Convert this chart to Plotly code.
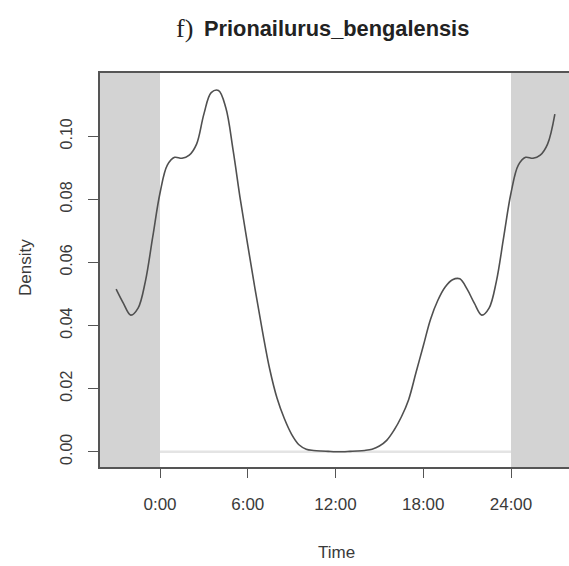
import plotly.graph_objects as go

# ---- data ----
time_h = [-3, -2.5, -2, -1.5, -1, -0.5, 0, 0.5, 1, 1.5, 2, 2.5, 3, 3.5, 4, 4.5,
          5, 5.5, 6, 6.5, 7, 7.5, 8, 8.5, 9, 9.5, 10, 10.5, 11, 11.5, 12, 12.5,
          13, 13.5, 14, 14.5, 15, 15.5, 16, 16.5, 17, 17.5, 18, 18.5, 19, 19.5,
          20, 20.5, 21, 21.5, 22, 22.5, 23, 23.5, 24, 24.5, 25, 25.5, 26, 26.5, 27]
density = [0.0515, 0.0470, 0.0433, 0.0455, 0.0540, 0.0680, 0.0820, 0.0908, 0.0933,
           0.0930, 0.0940, 0.0975, 0.1070, 0.1138, 0.1145, 0.1090, 0.0955, 0.0797,
           0.0655, 0.0515, 0.0383, 0.0262, 0.0170, 0.0105, 0.0055, 0.0022, 0.0008,
           0.0004, 0.0002, 0.0001, 0.0000, 0.0000, 0.0001, 0.0002, 0.0004, 0.0008,
           0.0018, 0.0036, 0.0068, 0.0110, 0.0165, 0.0250, 0.0335, 0.0420, 0.0480,
           0.0522, 0.0545, 0.0548, 0.0515, 0.0470, 0.0433, 0.0455, 0.0540, 0.0680,
           0.0820, 0.0908, 0.0933, 0.0930, 0.0940, 0.0975, 0.1070]
x_ticks = [0, 6, 12, 18, 24]
x_tick_labels = ["0:00", "6:00", "12:00", "18:00", "24:00"]
y_ticks = [0.00, 0.02, 0.04, 0.06, 0.08, 0.10]
y_tick_labels = ["0.00", "0.02", "0.04", "0.06", "0.08", "0.10"]
night_start, night_end = 0, 24
title_prefix = "f)"
title_name = "Prionailurus_bengalensis"
x_label = "Time"
y_label = "Density"

# ---- layout geometry ----
W, H = 569, 566
L, R, T, B = 100, 0, 73, 99
XR = [-4.103, 27.966]
YR = [-0.00485, 0.12003]
pw, ph = W - L - R, H - T - B

def px_x(px):
    return (px - L) / pw

def px_y(py):
    return (H - B - py) / ph

FRAME = "#555555"
TEXT = "#3a3a3a"
SANS = "Liberation Sans, Arial, sans-serif"

fig = go.Figure()
fig.add_trace(go.Scatter(x=time_h, y=density, mode="lines",
                         line=dict(color="#505050", width=1.6, shape="spline", smoothing=1.0),
                         hoverinfo="skip", showlegend=False))

shapes = [
    dict(type="rect", xref="x", yref="paper", x0=XR[0] - 1, x1=night_start, y0=0, y1=1,
         fillcolor="#d3d3d3", line=dict(width=0), layer="below"),
    dict(type="rect", xref="x", yref="paper", x0=night_end, x1=XR[1] + 1, y0=0, y1=1,
         fillcolor="#d3d3d3", line=dict(width=0), layer="below"),
    dict(type="line", xref="x", yref="y", x0=night_start, x1=night_end, y0=0, y1=0,
         line=dict(color="#e4e4e4", width=2.5), layer="below"),
]

annotations = [
    dict(text=title_prefix, xref="paper", yref="paper", x=px_x(195), y=px_y(28),
         xanchor="right", yanchor="middle", showarrow=False,
         font=dict(family="Liberation Serif, DejaVu Serif, serif", size=26, color="#222222")),
    dict(text="<b>" + title_name + "</b>", xref="paper", yref="paper", x=px_x(202), y=px_y(28),
         xanchor="left", yanchor="middle", showarrow=False,
         font=dict(family=SANS, size=21.8, color="#222222")),
    dict(text=x_label, xref="paper", yref="paper", x=px_x(336), y=px_y(552),
         xanchor="center", yanchor="middle", showarrow=False,
         font=dict(family=SANS, size=17, color=TEXT)),
    dict(text=y_label, xref="paper", yref="paper", x=px_x(25), y=px_y(268),
         xanchor="center", yanchor="middle", showarrow=False, textangle=-90,
         font=dict(family=SANS, size=17, color=TEXT)),
]

fig.update_layout(
    width=W, height=H,
    margin=dict(l=L, r=R, t=T, b=B, pad=0),
    paper_bgcolor="white", plot_bgcolor="white",
    shapes=shapes, annotations=annotations,
    xaxis=dict(range=XR, tickmode="array", tickvals=x_ticks, ticktext=x_tick_labels,
               showgrid=False, zeroline=False, showline=True, mirror=True,
               linecolor=FRAME, linewidth=1.6, ticks="outside", ticklen=9,
               tickcolor=FRAME, tickwidth=1.2, ticklabelstandoff=12,
               tickfont=dict(family=SANS, size=17, color=TEXT)),
    yaxis=dict(range=YR, tickmode="array", tickvals=y_ticks, ticktext=y_tick_labels,
               showgrid=False, zeroline=False, showline=True, mirror=False,
               linecolor=FRAME, linewidth=1.6, ticks="outside", ticklen=10,
               tickcolor=FRAME, tickwidth=1.2, tickangle=-90, ticklabelstandoff=10,
               tickfont=dict(family=SANS, size=16, color=TEXT)),
)

fig.write_html("out.html")
